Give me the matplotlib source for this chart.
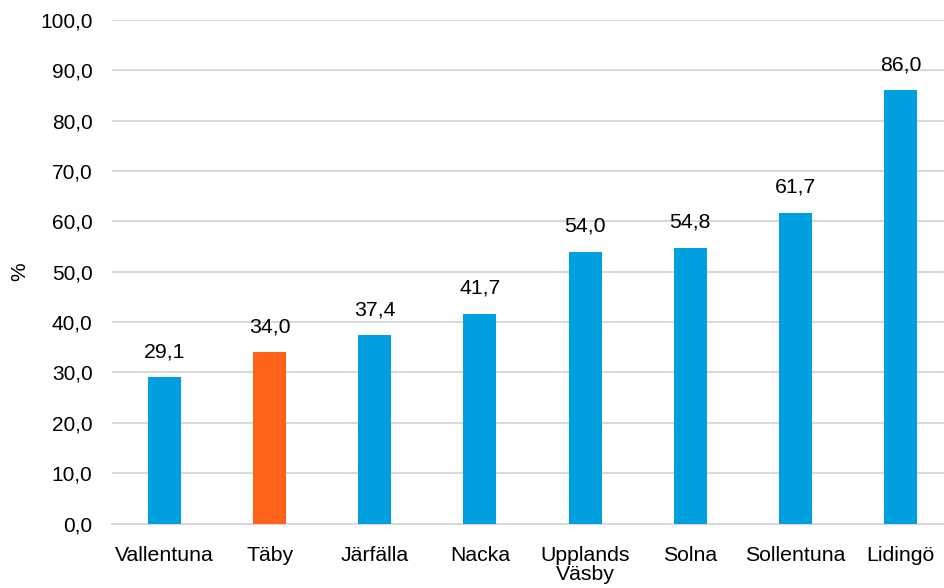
import matplotlib
matplotlib.use("Agg")
import matplotlib.pyplot as plt
from matplotlib.ticker import FuncFormatter

# Kommuner och andel (%)
kommuner = ["Vallentuna", "Täby", "Järfälla", "Nacka", "Upplands\nVäsby",
            "Solna", "Sollentuna", "Lidingö"]
andel = [29.1, 34.0, 37.4, 41.7, 54.0, 54.8, 61.7, 86.0]
markerad = "Täby"

BLUE = "#009FE0"
ORANGE = "#FF6319"
GRID = "#D9D9D9"

plt.rcParams["font.family"] = ["Liberation Sans", "DejaVu Sans"]

W, H, DPI = 944, 588, 100
fig = plt.figure(figsize=(W / DPI, H / DPI), dpi=DPI)
# plot area is cut off at the right edge in the original
left, right = 112.0, 953.0
top, bottom = 20.0, 523.5
ax = fig.add_axes([left / W, (H - bottom) / H, (right - left) / W, (bottom - top) / H])

x = list(range(len(kommuner)))
colors = [ORANGE if k == markerad else BLUE for k in kommuner]
ax.bar(x, andel, width=0.315, color=colors, zorder=3)

for xi, v in zip(x, andel):
    ax.annotate(f"{v:.1f}".replace(".", ","), xy=(xi, v), xytext=(0, 11.5),
                textcoords="offset points", ha="center", va="bottom",
                fontsize=15.3, color="#000000")

ax.set_xlim(-0.5, len(kommuner) - 0.5)
ax.set_ylim(0, 100)
ax.set_yticks(range(0, 101, 10))
ax.yaxis.set_major_formatter(FuncFormatter(lambda v, p: f"{v:.1f}".replace(".", ",")))
ax.set_xticks(x)
ax.set_xticklabels(kommuner, fontsize=15.3, linespacing=1.0)
ax.tick_params(axis="x", length=0, pad=16)
ax.tick_params(axis="y", length=0, pad=14, labelsize=15)
ax.set_ylabel("%", fontsize=15, labelpad=8)

ax.grid(axis="y", color=GRID, linewidth=1.5, zorder=0)
for s in ["top", "right", "left"]:
    ax.spines[s].set_visible(False)
ax.spines["bottom"].set_color(GRID)
ax.spines["bottom"].set_linewidth(1.5)

fig.savefig("out.png", dpi=DPI)
